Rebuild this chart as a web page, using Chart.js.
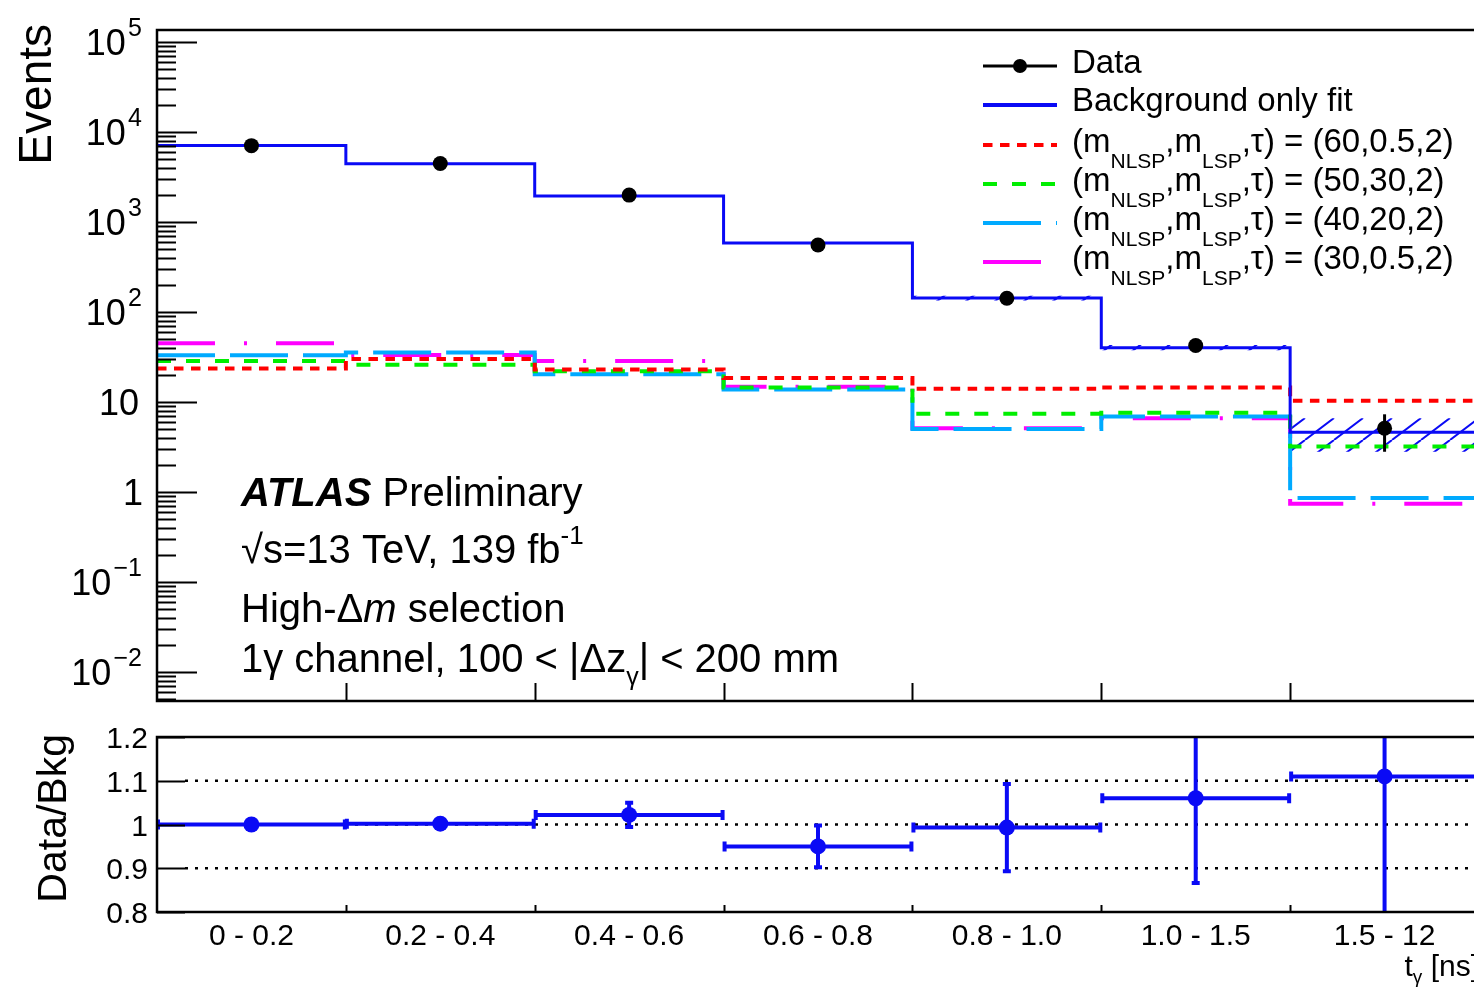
<!DOCTYPE html>
<html>
<head>
<meta charset="utf-8">
<script src="https://cdn.jsdelivr.net/npm/chart.js@4.4.1/dist/chart.umd.min.js"></script>
<style>
  html, body { margin: 0; padding: 0; overflow: hidden; background: #fff; width: 1474px; height: 988px; }
  canvas { position: absolute; left: 0; }
  #top { top: 0; }
  #ratio { top: 720px; }
</style>
</head>
<body>
<canvas id="top" width="1500" height="720"></canvas>
<canvas id="ratio" width="1500" height="268"></canvas>
<script>
// bins of t_gamma [ns]
const binLabels = ['0 - 0.2', '0.2 - 0.4', '0.4 - 0.6', '0.6 - 0.8', '0.8 - 1.0', '1.0 - 1.5', '1.5 - 12'];

// observed events and stat. errors
const dataCounts = [7050, 4460, 1990, 556, 142, 42.4, 5.1];
const dataErrUp = [85, 67, 45, 24, 12, 6.6, 2.2];
const dataErrDown = [85, 67, 45, 24, 12, 6.4, 2.3];

// background only fit + uncertainty band
const fitBkg = [7100, 4450, 1950, 585, 143, 40, 4.6];
const fitBandHi = [7180, 4500, 1975, 595, 152, 43, 6.6];
const fitBandLo = [7020, 4400, 1925, 575, 134, 37.5, 2.8];

// signal models (m_NLSP, m_LSP, tau)
const sig60_05 = [23.5, 30, 23, 18.5, 14, 14.5, 10.3];
const sig50_30 = [28.5, 26, 22, 14.5, 7.4, 7.6, 3.2];
const sig40_20 = [33, 35.5, 20.3, 13.8, 5.0, 6.9, 0.86];
const sig30_05 = [45, 33.3, 28.5, 14.8, 5.1, 6.6, 0.74];

// ratio panel
const ratioVals = [1.0, 1.002, 1.022, 0.95, 0.993, 1.06, 1.11];
const ratioErr = [0.004, 0.004, 0.03, 0.05, 0.102, 0.196, 0.49];

const topTicks = [5, 4, 3, 2, 1, 0, -1, -2];
const ratioTicks = [1.2, 1.1, 1.0, 0.9, 0.8];

const FONT = "'Liberation Sans', Arial, Helvetica, sans-serif";
const BLUE = '#0a0af5';

function font(size, style) {
    return `${style || ''} ${size}px ${FONT}`;
}

// draw a line of text made of pieces (sub/superscripts, italics)
function drawRich(ctx, x, y, parts, align) {
    let total = 0;
    parts.forEach(p => {
        ctx.font = font(p.size, p.style);
        p.w = ctx.measureText(p.text).width;
        total += p.w;
    });
    let cx = x;
    if (align === 'right') cx = x - total;
    if (align === 'center') cx = x - total / 2;
    ctx.textAlign = 'left';
    ctx.textBaseline = 'middle';
    ctx.fillStyle = '#000';
    parts.forEach(p => {
        ctx.font = font(p.size, p.style);
        ctx.fillText(p.text, cx, y + (p.dy || 0));
        cx += p.w;
    });
}

function stepPoints(vals) {
    const pts = vals.map((v, i) => ({ x: i, y: v }));
    pts.push({ x: vals.length, y: vals[vals.length - 1] });
    return pts;
}

function centerPoints(vals) {
    return vals.map((v, i) => ({ x: i + 0.5, y: v }));
}

// hatch pattern for the fit uncertainty
const hatch = (() => {
    const c = document.createElement('canvas');
    c.width = 29;
    c.height = 22;
    const g = c.getContext('2d');
    g.strokeStyle = BLUE;
    g.lineWidth = 2;
    g.beginPath();
    [-29, 0, 29].forEach(off => {
        g.moveTo(off, 22);
        g.lineTo(off + 29, 0);
    });
    g.stroke();
    return g.createPattern(c, 'repeat');
})();

const signals = [
    { vals: sig60_05, color: '#ff0000', dash: [9.5, 7.5], label: '(60,0.5,2)' },
    { vals: sig50_30, color: '#00ee00', dash: [14, 15], label: '(50,30,2)' },
    { vals: sig40_20, color: '#00aaff', dash: [58, 15], label: '(40,20,2)' },
    { vals: sig30_05, color: '#ff00ff', dash: [58, 29, 3, 29], label: '(30,0.5,2)' }
];

const topDecor = {
    id: 'topDecor',
    afterDatasetsDraw(chart) {
        const { ctx, scales: { x, y } } = chart;
        ctx.save();
        ctx.strokeStyle = '#000';
        ctx.lineWidth = 3;
        dataCounts.forEach((v, i) => {
            const px = x.getPixelForValue(i + 0.5);
            ctx.beginPath();
            ctx.moveTo(px, y.getPixelForValue(v + dataErrUp[i]));
            ctx.lineTo(px, y.getPixelForValue(v - dataErrDown[i]));
            ctx.stroke();
        });
        ctx.restore();
    },
    afterDraw(chart) {
        const { ctx, chartArea: a, scales: { x, y } } = chart;
        ctx.save();
        ctx.strokeStyle = '#000';
        ctx.lineWidth = 2.5;
        ctx.strokeRect(a.left, a.top, a.right - a.left, a.bottom - a.top);

        // log ticks
        ctx.lineWidth = 2;
        for (let k = -3; k <= 5; k++) {
            for (let m = 1; m <= 9; m++) {
                const v = m * Math.pow(10, k);
                if (v < y.min || v > y.max) continue;
                const py = Math.round(y.getPixelForValue(v)) + 0.5;
                ctx.beginPath();
                ctx.moveTo(a.left, py);
                ctx.lineTo(a.left + (m === 1 ? 40 : 19), py);
                ctx.stroke();
            }
        }
        // bin edge ticks
        for (let i = 1; i < binLabels.length; i++) {
            const px = Math.round(x.getPixelForValue(i)) + 0.5;
            ctx.beginPath();
            ctx.moveTo(px, a.bottom);
            ctx.lineTo(px, a.bottom - 18);
            ctx.stroke();
        }

        // y tick labels
        topTicks.forEach(k => {
            const py = y.getPixelForValue(Math.pow(10, k)) + 3;
            if (k === 0) {
                drawRich(ctx, 143, py, [{ text: '1', size: 36 }], 'right');
            } else if (k === 1) {
                drawRich(ctx, 139, py, [{ text: '10', size: 36 }], 'right');
            } else {
                const sup = k < 0 ? '\u2212' + (-k) : String(k);
                drawRich(ctx, 142, py, [
                    { text: '10', size: 36 },
                    { text: ' ', size: 8 },
                    { text: sup, size: 25, dy: -16 }
                ], 'right');
            }
        });

        // y title
        ctx.save();
        ctx.translate(38, 24);
        ctx.rotate(-Math.PI / 2);
        ctx.font = font(46);
        ctx.fillStyle = '#000';
        ctx.textAlign = 'right';
        ctx.textBaseline = 'middle';
        ctx.fillText('Events', 0, 0);
        ctx.restore();

        // legend
        const lx0 = 983, lx1 = 1057, tx = 1072;
        const rows = [66, 105, 145, 184, 223, 262];
        ctx.lineWidth = 3;
        ctx.strokeStyle = '#000';
        ctx.beginPath();
        ctx.moveTo(lx0, rows[0]);
        ctx.lineTo(lx1, rows[0]);
        ctx.stroke();
        ctx.fillStyle = '#000';
        ctx.beginPath();
        ctx.arc(1020, rows[0], 7, 0, Math.PI * 2);
        ctx.fill();
        drawRich(ctx, tx, rows[0] - 2, [{ text: 'Data', size: 33 }]);

        ctx.strokeStyle = BLUE;
        ctx.lineWidth = 4;
        ctx.beginPath();
        ctx.moveTo(lx0, rows[1]);
        ctx.lineTo(lx1, rows[1]);
        ctx.stroke();
        drawRich(ctx, tx, rows[1] - 3, [{ text: 'Background only fit', size: 33 }]);

        signals.forEach((s, i) => {
            const ry = rows[i + 2];
            ctx.strokeStyle = s.color;
            ctx.lineWidth = 4;
            ctx.setLineDash(s.dash);
            ctx.beginPath();
            ctx.moveTo(lx0, ry);
            ctx.lineTo(lx1, ry);
            ctx.stroke();
            ctx.setLineDash([]);
            drawRich(ctx, tx, ry - 2, [
                { text: '(m', size: 33 },
                { text: 'NLSP', size: 21, dy: 19 },
                { text: ',m', size: 33 },
                { text: 'LSP', size: 21, dy: 19 },
                { text: ',\u03c4) = ' + s.label, size: 33 }
            ]);
        });

        // ATLAS label
        drawRich(ctx, 241, 495, [
            { text: 'ATLAS', size: 40, style: 'italic bold' },
            { text: ' Preliminary', size: 40 }
        ]);
        drawRich(ctx, 241, 552, [
            { text: '\u221As=13 TeV, 139 fb', size: 40 },
            { text: '-1', size: 26, dy: -15 }
        ]);
        drawRich(ctx, 241, 611, [
            { text: 'High-\u0394', size: 40 },
            { text: 'm', size: 40, style: 'italic' },
            { text: ' selection', size: 40 }
        ]);
        drawRich(ctx, 241, 661, [
            { text: '1\u03b3 channel, 100 < |\u0394z', size: 40 },
            { text: '\u03b3', size: 25, dy: 17 },
            { text: '| < 200 mm', size: 40 }
        ]);
        ctx.restore();
    }
};

const topDatasets = [
    {
        data: centerPoints(dataCounts),
        showLine: false,
        pointRadius: 7.5,
        pointBackgroundColor: '#000',
        pointBorderWidth: 0,
        order: 0
    },
    {
        data: stepPoints(fitBkg),
        stepped: 'before',
        borderColor: BLUE,
        borderWidth: 3,
        pointRadius: 0,
        fill: false,
        order: 1
    }
];
signals.forEach((s, i) => {
    topDatasets.push({
        data: stepPoints(s.vals),
        stepped: 'before',
        borderColor: s.color,
        borderWidth: 4,
        borderDash: s.dash,
        pointRadius: 0,
        fill: false,
        order: 2 + i
    });
});
topDatasets.push({
    data: stepPoints(fitBandHi),
    stepped: 'before',
    borderColor: 'rgba(0,0,0,0)',
    pointRadius: 0,
    fill: false,
    order: 10
});
topDatasets.push({
    data: stepPoints(fitBandLo),
    stepped: 'before',
    borderColor: 'rgba(0,0,0,0)',
    backgroundColor: hatch,
    pointRadius: 0,
    fill: '-1',
    order: 11
});

new Chart(document.getElementById('top'), {
    type: 'line',
    data: { datasets: topDatasets },
    options: {
        responsive: false,
        animation: false,
        devicePixelRatio: 1,
        layout: { padding: { left: 157, top: 30, right: 21, bottom: 19 } },
        scales: {
            x: { type: 'linear', min: 0, max: 7, display: false },
            y: { type: 'logarithmic', min: 4.76e-3, max: 1.36e5, display: false }
        },
        plugins: { legend: { display: false }, tooltip: { enabled: false } }
    },
    plugins: [topDecor]
});

const ratioDecor = {
    id: 'ratioDecor',
    beforeDatasetsDraw(chart) {
        const { ctx, chartArea: a, scales: { x, y } } = chart;
        ctx.save();
        // dotted reference lines
        ctx.strokeStyle = '#000';
        ctx.lineWidth = 2.5;
        ctx.setLineDash([3, 7]);
        [1.1, 1.0, 0.9].forEach(v => {
            const py = y.getPixelForValue(v);
            ctx.beginPath();
            ctx.moveTo(a.left + 28, py);
            ctx.lineTo(a.right, py);
            ctx.stroke();
        });
        ctx.setLineDash([]);

        // error bars
        ctx.beginPath();
        ctx.rect(a.left, a.top, a.right - a.left, a.bottom - a.top);
        ctx.clip();
        ctx.strokeStyle = BLUE;
        ctx.lineWidth = 4;
        ratioVals.forEach((r, i) => {
            const py = y.getPixelForValue(r);
            const x0 = x.getPixelForValue(i), x1 = x.getPixelForValue(i + 1);
            const pc = x.getPixelForValue(i + 0.5);
            ctx.beginPath();
            ctx.moveTo(x0, py);
            ctx.lineTo(x1, py);
            ctx.moveTo(x0 + 1, py - 5);
            ctx.lineTo(x0 + 1, py + 5);
            ctx.moveTo(x1 - 1, py - 5);
            ctx.lineTo(x1 - 1, py + 5);
            const yHi = y.getPixelForValue(r + ratioErr[i]);
            const yLo = y.getPixelForValue(r - ratioErr[i]);
            ctx.moveTo(pc, yHi);
            ctx.lineTo(pc, yLo);
            ctx.moveTo(pc - 4, yHi + 1);
            ctx.lineTo(pc + 4, yHi + 1);
            ctx.moveTo(pc - 4, yLo - 1);
            ctx.lineTo(pc + 4, yLo - 1);
            ctx.stroke();
        });
        ctx.restore();
    },
    afterDraw(chart) {
        const { ctx, chartArea: a, scales: { x, y } } = chart;
        ctx.save();
        ctx.strokeStyle = '#000';
        ctx.lineWidth = 2.5;
        ctx.strokeRect(a.left, a.top, a.right - a.left, a.bottom - a.top);

        ctx.lineWidth = 2;
        ratioTicks.forEach(v => {
            const py = Math.round(y.getPixelForValue(v)) + 0.5;
            ctx.beginPath();
            ctx.moveTo(a.left, py);
            ctx.lineTo(a.left + 28, py);
            ctx.stroke();
            drawRich(ctx, 148, py + 2, [{ text: v === 1 ? '1' : String(v), size: 30 }], 'right');
        });
        for (let i = 1; i < binLabels.length; i++) {
            const px = Math.round(x.getPixelForValue(i)) + 0.5;
            ctx.beginPath();
            ctx.moveTo(px, a.bottom);
            ctx.lineTo(px, a.bottom - 7);
            ctx.stroke();
        }

        binLabels.forEach((lab, i) => {
            drawRich(ctx, x.getPixelForValue(i + 0.5), a.bottom + 25, [{ text: lab, size: 30 }], 'center');
        });
        drawRich(ctx, a.right, a.bottom + 56, [
            { text: 't', size: 30 },
            { text: '\u03b3', size: 19, dy: 10 },
            { text: ' [ns]', size: 30 }
        ], 'right');

        ctx.save();
        ctx.translate(55, 14);
        ctx.rotate(-Math.PI / 2);
        ctx.font = font(41);
        ctx.fillStyle = '#000';
        ctx.textAlign = 'right';
        ctx.textBaseline = 'middle';
        ctx.fillText('Data/Bkg', 0, 0);
        ctx.restore();
        ctx.restore();
    }
};

new Chart(document.getElementById('ratio'), {
    type: 'line',
    data: {
        datasets: [{
            data: centerPoints(ratioVals),
            showLine: false,
            pointRadius: 8,
            pointBackgroundColor: BLUE,
            pointBorderWidth: 0
        }]
    },
    options: {
        responsive: false,
        animation: false,
        devicePixelRatio: 1,
        layout: { padding: { left: 157, top: 17, right: 21, bottom: 76 } },
        scales: {
            x: { type: 'linear', min: 0, max: 7, display: false },
            y: { type: 'linear', min: 0.8, max: 1.2, display: false }
        },
        plugins: { legend: { display: false }, tooltip: { enabled: false } }
    },
    plugins: [ratioDecor]
});
</script>
</body>
</html>
